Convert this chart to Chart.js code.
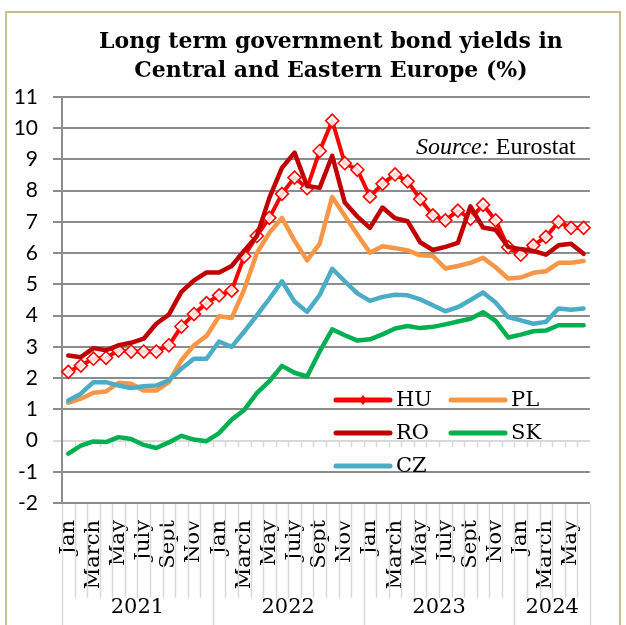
<!DOCTYPE html>
<html>
<head>
<meta charset="utf-8">
<script src="https://cdn.jsdelivr.net/npm/chart.js@4.4.1/dist/chart.umd.min.js"></script>
<style>
  html, body { margin: 0; padding: 0; background: #fff; }
  canvas { display: block; }
</style>
</head>
<body>
<canvas id="chart" width="626" height="625"></canvas>
<script>
// Monthly long-term government bond yields (%), Jan 2021 – Jun 2024
const monthNames = ['Jan', 'Feb', 'March', 'April', 'May', 'June', 'July', 'Aug', 'Sept', 'Oct', 'Nov', 'Dec'];
const years = ['2021', '2022', '2023', '2024'];
const monthsPerYear = [12, 12, 12, 6];

const hu = [2.2, 2.4, 2.62, 2.65, 2.88, 2.85, 2.85, 2.85, 3.05, 3.65, 4.05, 4.4,
  4.65, 4.8, 5.9, 6.55, 7.13, 7.9, 8.42, 8.08, 9.27, 10.24, 8.88, 8.67,
  7.81, 8.22, 8.52, 8.3, 7.73, 7.21, 7.05, 7.36, 7.1, 7.55, 7.05, 6.19,
  5.95, 6.25, 6.52, 7.0, 6.81, 6.81];
const pl = [1.21, 1.34, 1.53, 1.57, 1.85, 1.82, 1.6, 1.6, 1.87, 2.57, 3.05, 3.35,
  3.98, 3.92, 4.84, 6.0, 6.65, 7.13, 6.4, 5.77, 6.3, 7.8, 7.2, 6.6,
  6.01, 6.22, 6.16, 6.09, 5.93, 5.91, 5.51, 5.59, 5.69, 5.85, 5.55, 5.19,
  5.22, 5.37, 5.42, 5.69, 5.69, 5.75];
const ro = [2.72, 2.67, 2.96, 2.89, 3.05, 3.13, 3.26, 3.74, 4.03, 4.76, 5.13, 5.38,
  5.38, 5.59, 6.08, 6.54, 7.77, 8.73, 9.22, 8.15, 8.09, 9.12, 7.62, 7.17,
  6.81, 7.46, 7.12, 7.02, 6.35, 6.1, 6.2, 6.33, 7.5, 6.82, 6.75, 6.2,
  6.13, 6.07, 5.95, 6.25, 6.3, 5.98];
const sk = [-0.42, -0.16, -0.03, -0.05, 0.11, 0.05, -0.14, -0.24, -0.06, 0.15, 0.03, -0.02,
  0.24, 0.67, 0.98, 1.52, 1.9, 2.39, 2.17, 2.05, 2.85, 3.56, 3.37, 3.2,
  3.24, 3.4, 3.59, 3.67, 3.6, 3.64, 3.72, 3.81, 3.9, 4.11, 3.83, 3.3,
  3.39, 3.5, 3.52, 3.69, 3.69, 3.69];
const cz = [1.28, 1.5, 1.87, 1.87, 1.76, 1.68, 1.74, 1.76, 1.93, 2.3, 2.62, 2.62,
  3.17, 3.0, 3.49, 4.01, 4.54, 5.1, 4.45, 4.12, 4.66, 5.5, 5.1, 4.71,
  4.47, 4.6, 4.67, 4.65, 4.52, 4.33, 4.14, 4.27, 4.5, 4.74, 4.42, 3.95,
  3.85, 3.74, 3.8, 4.23, 4.19, 4.23];

const titleLines = ['Long term government bond yields in', 'Central and Eastern Europe (%)'];
const sourceLabel = 'Source:';
const sourceName = ' Eurostat';

// one category per month, labelled "Month Year"
const categories = [];
years.forEach((yr, yi) => {
  for (let m = 0; m < monthsPerYear[yi]; m++) categories.push(monthNames[m] + ' ' + yr);
});

const SERIF = '"DejaVu Serif", serif';
const GRID = '#8c8c8c';
const LIGHT = '#d9d9d9';

function series(label, data, color, order, extra) {
  return Object.assign({
    label, data, order,
    borderColor: color,
    backgroundColor: color,
    borderWidth: 4.5,
    pointRadius: 0,
    tension: 0,
    borderJoinStyle: 'round',
    borderCapStyle: 'round',
    fill: false
  }, extra || {});
}

const datasets = [
  series('HU', hu, '#ff0000', 5, {
    borderWidth: 4,
    pointRadius: 6.5,
    pointStyle: 'rectRot',
    pointBorderWidth: 1.6,
    pointBorderColor: '#ff0000',
    pointBackgroundColor: 'rgba(255,255,255,0.85)'
  }),
  series('PL', pl, '#f79646', 4),
  series('RO', ro, '#c00000', 3),
  series('SK', sk, '#00b050', 2),
  series('CZ', cz, '#4bacc6', 1)
];

// Legend grid: column x of the line sample, row y centre
const legendCols = [336, 451];
const legendRows = [400, 433, 466];

const decor = {
  id: 'decor',
  beforeDraw(chart) {
    const { ctx } = chart;
    ctx.save();
    ctx.fillStyle = '#fff';
    ctx.fillRect(0, 0, chart.width, chart.height);
    ctx.strokeStyle = '#c8bd92';
    ctx.lineWidth = 2;
    ctx.strokeRect(6, 12, 614, 640);
    ctx.restore();
  },
  beforeDatasetsDraw(chart) {
    // small tick marks hanging from the zero line between months
    const { ctx, scales: { x, y } } = chart;
    const y0 = Math.round(y.getPixelForValue(0));
    ctx.save();
    ctx.strokeStyle = LIGHT;
    ctx.lineWidth = 1.5;
    ctx.beginPath();
    for (let k = 1; k < categories.length; k++) {
      const px = Math.round(x.getPixelForValue(k - 0.5)) + 0.5;
      ctx.moveTo(px, y0);
      ctx.lineTo(px, y0 + 6);
    }
    ctx.stroke();
    ctx.restore();
  },
  afterDraw(chart) {
    const { ctx, chartArea: a, scales: { x } } = chart;
    ctx.save();

    // month and year separators under the plot
    ctx.strokeStyle = LIGHT;
    ctx.lineWidth = 1.5;
    ctx.beginPath();
    const yearEdges = [0];
    monthsPerYear.reduce((s, n) => { yearEdges.push(s + n); return s + n; }, 0);
    for (let k = 0; k <= categories.length; k++) {
      const px = Math.round(x.getPixelForValue(k - 0.5)) + 0.5;
      const isYear = yearEdges.includes(k);
      ctx.moveTo(px, a.bottom + 1);
      ctx.lineTo(px, isYear ? chart.height : a.bottom + 95);
    }
    ctx.stroke();

    // year labels
    ctx.fillStyle = '#000';
    ctx.font = '21px ' + SERIF;
    ctx.textAlign = 'center';
    ctx.textBaseline = 'middle';
    for (let i = 0; i < years.length; i++) {
      const l = x.getPixelForValue(yearEdges[i] - 0.5);
      const r = x.getPixelForValue(yearEdges[i + 1] - 0.5);
      ctx.fillText(years[i], (l + r) / 2, 608);
    }

    // title
    ctx.font = 'bold 22px ' + SERIF;
    const cx = (a.left + a.right) / 2 - 4 + 9;
    ctx.fillText(titleLines[0], cx, 42);
    ctx.fillText(titleLines[1], cx, 71);

    // source note
    ctx.textAlign = 'left';
    ctx.textBaseline = 'alphabetic';
    ctx.font = 'italic 24px "Liberation Serif", serif';
    const sx = 416;
    ctx.fillText(sourceLabel, sx, 154);
    const w = ctx.measureText(sourceLabel).width;
    ctx.font = '24px "Liberation Serif", serif';
    ctx.fillText(sourceName, sx + w, 154);

    // legend
    ctx.font = '21px ' + SERIF;
    ctx.textBaseline = 'middle';
    chart.data.datasets.forEach((ds, i) => {
      const lx = legendCols[i % 2];
      const ly = legendRows[Math.floor(i / 2)];
      ctx.strokeStyle = ds.borderColor;
      ctx.lineWidth = 5;
      ctx.lineCap = 'round';
      ctx.beginPath();
      ctx.moveTo(lx, ly);
      ctx.lineTo(lx + 54, ly);
      ctx.stroke();
      if (ds.pointStyle === 'rectRot') {
        ctx.fillStyle = ds.borderColor;
        ctx.beginPath();
        ctx.moveTo(lx + 27, ly - 5);
        ctx.lineTo(lx + 31, ly);
        ctx.lineTo(lx + 27, ly + 5);
        ctx.lineTo(lx + 23, ly);
        ctx.closePath();
        ctx.fill();
      }
      ctx.fillStyle = '#000';
      ctx.fillText(ds.label, lx + 60, ly + 1);
    });

    ctx.restore();
  }
};

new Chart(document.getElementById('chart'), {
  type: 'line',
  data: { labels: categories, datasets },
  options: {
    responsive: false,
    animation: false,
    devicePixelRatio: 1,
    layout: { padding: { left: 0, right: 18, top: 97, bottom: 0 } },
    plugins: {
      legend: { display: false },
      title: { display: false },
      tooltip: { enabled: false }
    },
    scales: {
      x: {
        type: 'category',
        offset: true,
        grid: { display: false, drawTicks: false },
        border: { display: false },
        ticks: {
          autoSkip: false,
          minRotation: 90,
          maxRotation: 90,
          padding: 17,
          color: '#000',
          font: { family: SERIF, size: 21 },
          callback: (v, i) => (i % 2 === 0 ? monthNames[i % 12] : '')
        },
        afterFit: (s) => { s.height = 122; }
      },
      y: {
        min: -2,
        max: 11,
        ticks: {
          stepSize: 1,
          padding: 15,
          color: '#000',
          font: { family: 'Lato, sans-serif', size: 21 }
        },
        grid: {
          color: (c) => (c.tick && c.tick.value === 0 ? LIGHT : GRID),
          lineWidth: 2,
          tickLength: 9
        },
        border: { color: GRID, width: 2 },
        afterFit: (s) => { s.width = 62; }
      }
    }
  },
  plugins: [decor]
});
</script>
</body>
</html>
